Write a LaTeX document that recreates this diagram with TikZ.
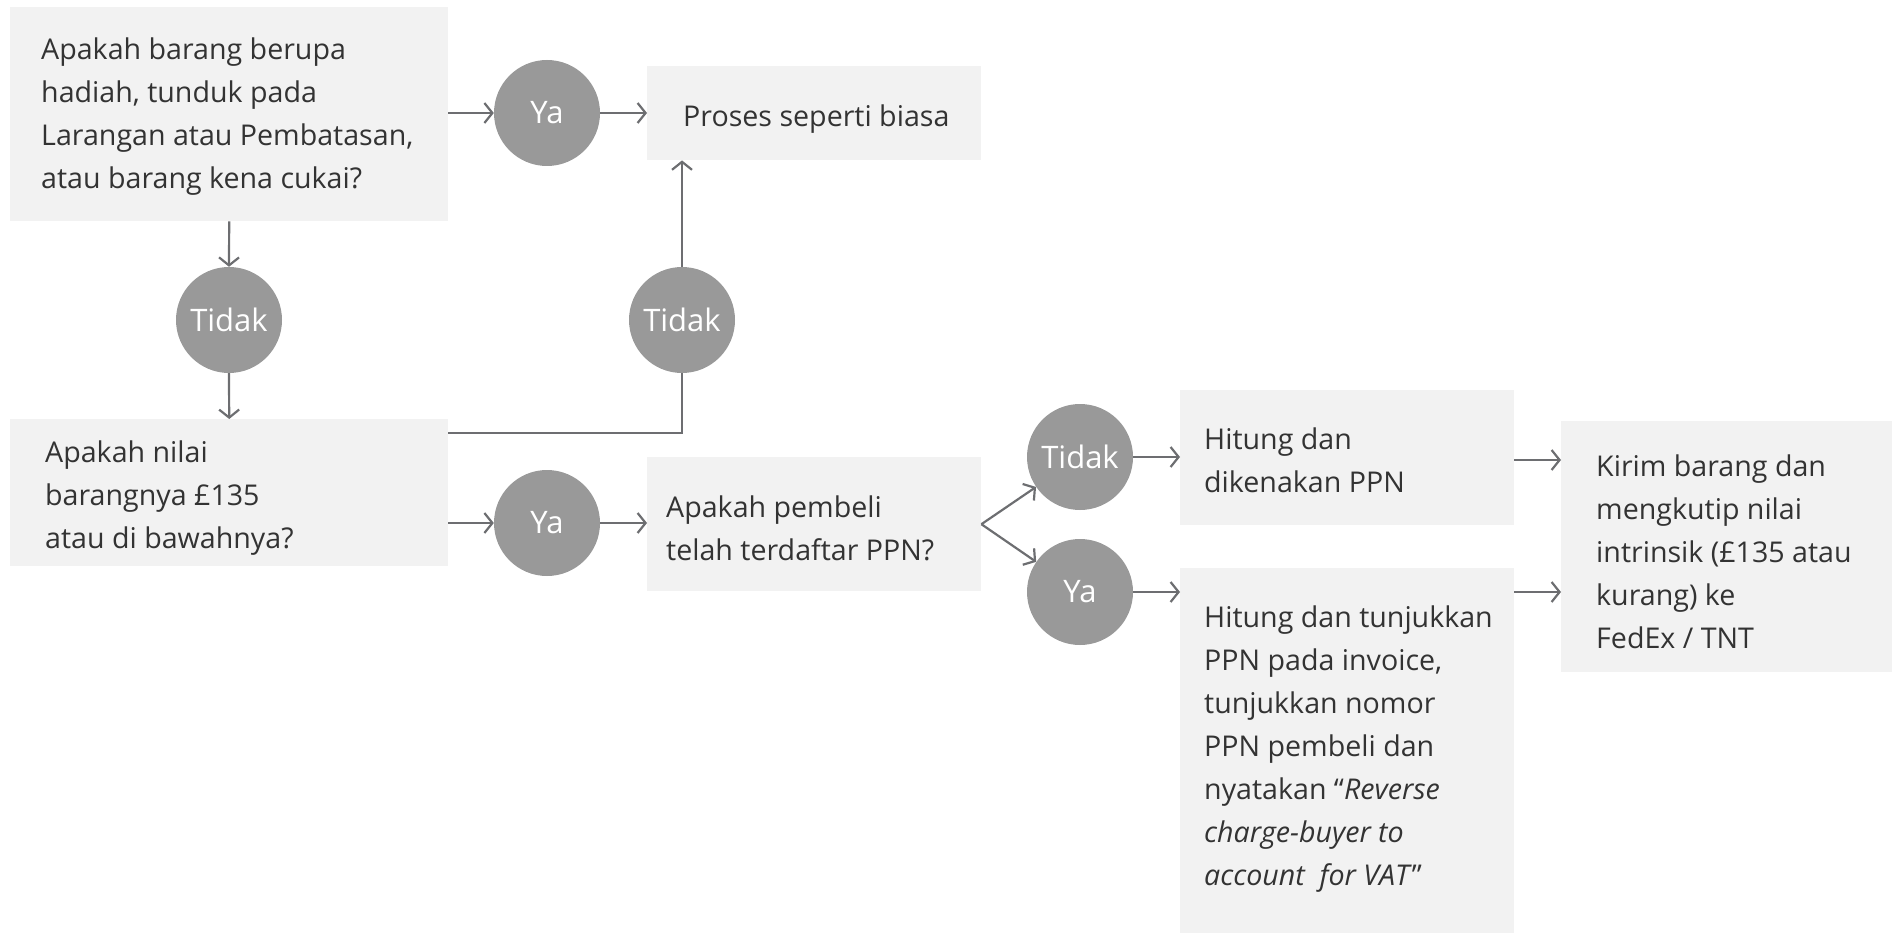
\documentclass[tikz,border=0pt]{standalone}
\usepackage{fontspec}
\setmainfont{Open Sans}
\usetikzlibrary{arrows.meta}
\definecolor{boxgray}{HTML}{F2F2F2}
\definecolor{circgray}{HTML}{999999}
\definecolor{linegray}{HTML}{6D6E71}
\definecolor{txtcol}{HTML}{333333}
\begin{document}
\begin{tikzpicture}[x=1pt,y=-1pt,
  box/.style={fill=boxgray, draw=none, inner sep=0pt, anchor=north west},
  lbl/.style={text=txtcol, align=left, inner sep=0pt, anchor=west, font=\fontsize{28.6}{43}\selectfont},
  circ/.style={circle, fill=circgray, text=white, minimum size=106pt, inner sep=0pt, font=\fontsize{31}{36}\selectfont},
  arr/.style={draw=linegray, line width=2.2pt, -{Straight Barb[length=8pt,width=20pt,line width=2.2pt]}},
  ln/.style={draw=linegray, line width=2.2pt}]
\useasboundingbox (0,0) rectangle (1892,933);

% boxes
\node[box, minimum width=438pt, minimum height=214pt] (b1) at (10,7) {};
\node[box, minimum width=438pt, minimum height=147pt] (b2) at (10,419) {};
\node[box, minimum width=334pt, minimum height=94pt] (bp) at (647,66) {};
\node[box, minimum width=334pt, minimum height=134pt] (b3) at (647,457) {};
\node[box, minimum width=334pt, minimum height=135pt] (b4) at (1180,390) {};
\node[box, minimum width=334pt, minimum height=365pt] (b5) at (1180,568) {};
\node[box, minimum width=331pt, minimum height=251pt] (b6) at (1561,421) {};

% texts
\node[lbl] (t1) at (41,117) {Apakah barang berupa\\hadiah, tunduk pada\\Larangan atau Pembatasan,\\atau barang kena cukai?};
\node[lbl] (t2) at (45,498) {Apakah nilai\\barangnya £135\\atau di bawahnya?};
\node[lbl] (tp) at (683,119) {Proses seperti biasa};
\node[lbl] (t3) at (666,528) {Apakah pembeli\\telah terdaftar PPN?};
\node[lbl] (t4) at (1204,460) {Hitung dan\\dikenakan PPN};
\node[lbl] (t5) at (1204,749) {Hitung dan tunjukkan\\PPN pada invoice,\\tunjukkan nomor\\PPN pembeli dan\\nyatakan “\textit{Reverse}\\\textit{charge-buyer to}\\\textit{account\ \ for VAT}”};
\node[lbl] (t6) at (1596,552) {Kirim barang dan\\mengkutip nilai\\intrinsik (£135 atau\\kurang) ke\\FedEx / TNT};

% circles
\node[circ] (ya1) at (547,113) {Ya};
\node[circ] (td1) at (229,320) {Tidak};
\node[circ] (td2) at (682,320) {Tidak};
\node[circ] (ya2) at (547,523) {Ya};
\node[circ] (td3) at (1080,457) {Tidak};
\node[circ] (ya3) at (1080,592) {Ya};

% connectors
\draw[arr] (b1.east |- ya1) -- (ya1.west);
\draw[arr] (ya1.east) -- (bp.west |- ya1);
\draw[arr] (b1.south) -- (td1.north);
\draw[arr] (td1.south) -- (b2.north);
\draw[ln] ([yshift=-14pt]b2.north east) -| (td2.south);
\draw[arr] (td2.north) -- (td2.north |- bp.south);
\draw[arr] (b2.east |- ya2) -- (ya2.west);
\draw[arr] (ya2.east) -- (b3.west |- ya2);
\draw[arr] (b3.east) -- (td3);
\draw[arr] (b3.east) -- (ya3);
\draw[arr] (td3.east) -- (b4.west |- td3);
\draw[arr] (ya3.east) -- (b5.west |- ya3);
\draw[arr] (b4.east |- 0,460) -- (b6.west |- 0,460);
\draw[arr] (b5.east |- ya3) -- (b6.west |- ya3);
\end{tikzpicture}
\end{document}
